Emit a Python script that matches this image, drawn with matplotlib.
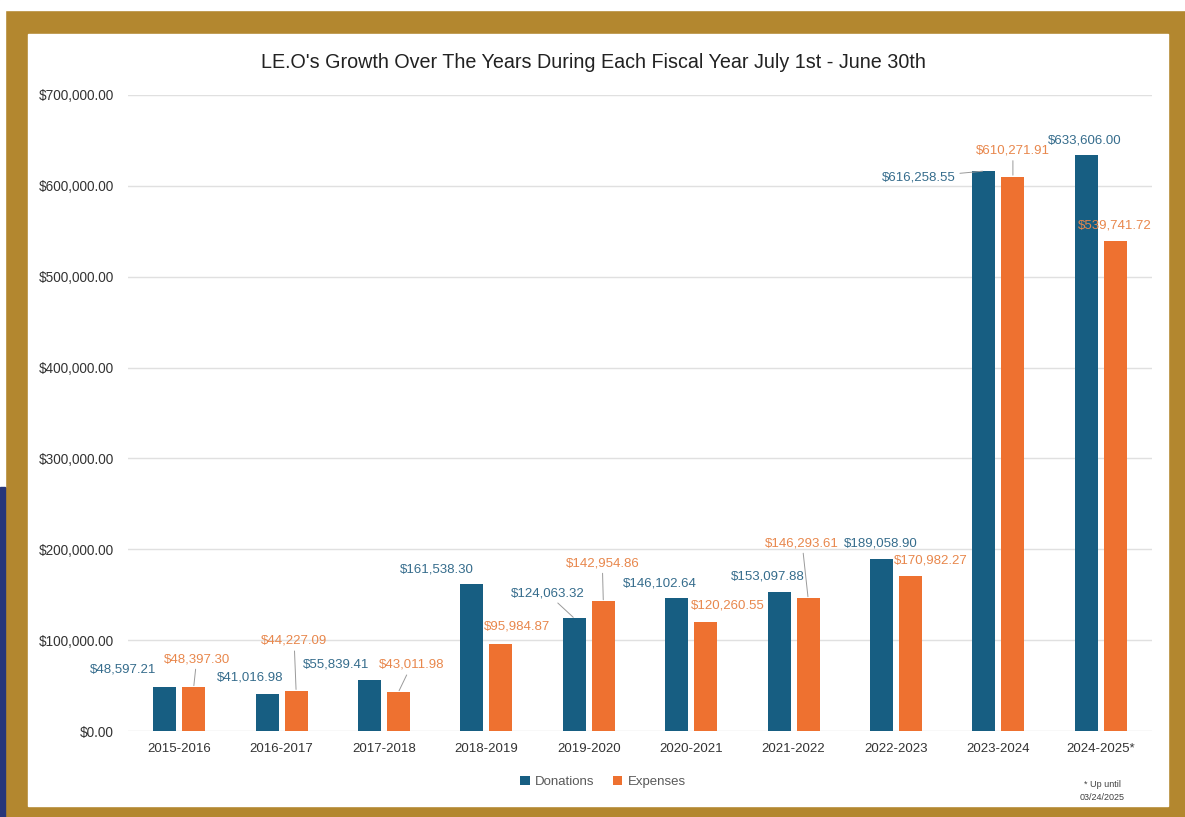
import numpy as np
import matplotlib.pyplot as plt
import matplotlib.patches as mpatches
from matplotlib.ticker import FuncFormatter

# ── Data ───────────────────────────────────────────────────────────────────
years = ['2015-2016', '2016-2017', '2017-2018', '2018-2019', '2019-2020',
         '2020-2021', '2021-2022', '2022-2023', '2023-2024', '2024-2025*']
donations = [48597.21, 41016.98, 55839.41, 161538.30, 124063.32,
             146102.64, 153097.88, 189058.90, 616258.55, 633606.00]
expenses = [48397.30, 44227.09, 43011.98, 95984.87, 142954.86,
            120260.55, 146293.61, 170982.27, 610271.91, 539741.72]

# label offsets from bar top (pixels, x right / y up) and leader-line flags
don_off = [(-42, 17), (-17, 16), (-33, 16), (-35, 15), (-27, 25),
           (-17, 15), (-11, 15), (-1, 16), (-65, -6), (-2, 15)]
don_lead = [False, False, False, False, True, False, False, False, True, False]
exp_off = [(3, 28), (-2, 50), (13, 27), (16, 17), (-1, 38),
           (22, 16), (-6, 55), (20, 15), (0, 26), (-1, 15)]
exp_lead = [True, True, True, False, True, False, True, False, True, False]

GOLD = '#B3872F'
NAVY = '#27367A'
BLUE = '#175E82'
ORANGE = '#EE7130'
BLUE_TXT = '#356C8C'
ORANGE_TXT = '#E8874C'

plt.rcParams['font.family'] = ['Liberation Sans', 'DejaVu Sans']

W, H = 1185, 817
fig = plt.figure(figsize=(W / 100, H / 100), dpi=100, facecolor=GOLD)

# ── Frame / background pieces ──────────────────────────────────────────────
def px_rect(x0, y0, x1, y1, color):
    fig.patches.append(mpatches.Rectangle((x0 / W, 1 - y1 / H), (x1 - x0) / W,
                                          (y1 - y0) / H, transform=fig.transFigure,
                                          color=color, zorder=-10))

px_rect(0, 0, W, 10, 'white')
px_rect(0, 0, 5, 487, 'white')
px_rect(0, 487, 5, H, NAVY)
px_rect(28, 34, 1168, 806, 'white')

# ── Chart ──────────────────────────────────────────────────────────────────
ax = fig.add_axes([128 / W, 1 - 731 / H, (1152 - 128) / W, (731 - 95) / H])
ax.set_facecolor('none')
ax.set_zorder(2)

x = np.arange(len(years))
width = 0.225
off = 0.1416
bd = ax.bar(x - off, donations, width, color=BLUE, label='Donations', zorder=3)
be = ax.bar(x + off, expenses, width, color=ORANGE, label='Expenses', zorder=3)

ax.set_xlim(-0.5, len(years) - 0.5)
ax.set_ylim(0, 700000)
ax.set_yticks(np.arange(0, 700001, 100000))
ax.yaxis.set_major_formatter(FuncFormatter(lambda v, p: f'${v:,.2f}'))
ax.set_xticks(x)
ax.set_xticklabels(years)
ax.tick_params(axis='both', length=0, labelsize=9.5, colors='#333333')
ax.tick_params(axis='y', pad=10, labelsize=9.8)
ax.tick_params(axis='x', pad=9)
ax.grid(axis='y', color='#e0e0e0', lw=1, zorder=0)
for s in ax.spines.values():
    s.set_visible(False)


def label_bars(vals, xs, offs, leads, color):
    for v, xi, (dx, dy), lead in zip(vals, xs, offs, leads):
        ap = dict(arrowstyle='-', color='#9a9a9a', lw=0.7, shrinkA=1, shrinkB=1) if lead else None
        ax.annotate(f'${v:,.2f}', xy=(xi, v), xytext=(dx, dy), textcoords='offset pixels',
                    ha='center', va='center', fontsize=9.5, color=color,
                    arrowprops=ap, zorder=5)


label_bars(donations, x - off, don_off, don_lead, BLUE_TXT)
label_bars(expenses, x + off, exp_off, exp_lead, ORANGE_TXT)

fig.text(593 / W, 1 - 62 / H,
         "LE.O's Growth Over The Years During Each Fiscal Year July 1st - June 30th",
         ha='center', va='center', fontsize=14.2, color='#222222')

fig.legend(handles=[bd, be], loc='center', bbox_to_anchor=(603 / W, 1 - 782 / H),
           ncol=2, frameon=False, fontsize=9.5, handlelength=0.7, handleheight=0.7,
           handletextpad=0.4, columnspacing=1.4, labelcolor='#595959')

fig.text(1102 / W, 1 - 791 / H, '* Up until\n03/24/2025', ha='center', va='center',
         fontsize=6.5, color='#404040', linespacing=1.6)

plt.savefig('out.png', dpi=100, facecolor=GOLD)
